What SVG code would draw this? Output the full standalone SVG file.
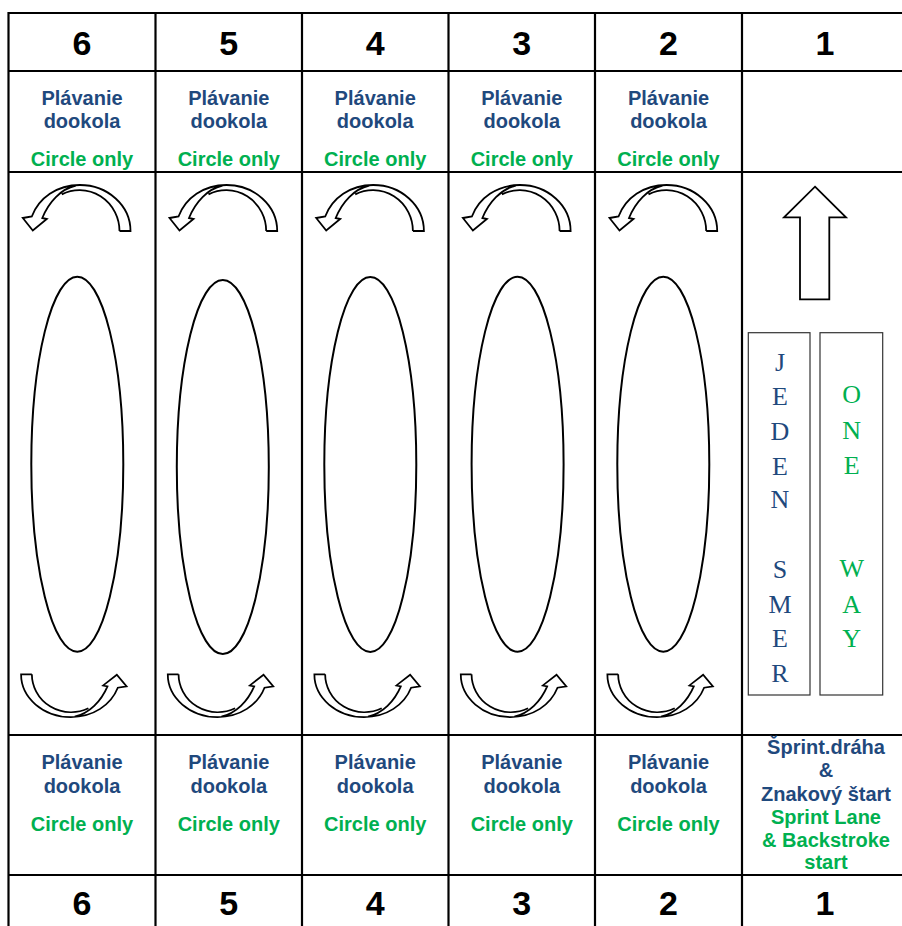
<svg xmlns="http://www.w3.org/2000/svg" xmlns:xlink="http://www.w3.org/1999/xlink" width="902" height="926" viewBox="0 0 902 926">
<style>
.grid{stroke:#000;stroke-width:2.2;fill:none}
.num{font-family:"Liberation Sans",Arial,sans-serif;font-weight:bold;font-size:34px;text-anchor:middle;fill:#000}
.sk{font-family:"Liberation Sans",Arial,sans-serif;font-weight:bold;font-size:20px;text-anchor:middle;fill:#1F497D}
.en{font-family:"Liberation Sans",Arial,sans-serif;font-weight:bold;font-size:20px;text-anchor:middle;fill:#00B050}
.oval{fill:none;stroke:#000;stroke-width:2}
.arw{fill:#fff;stroke:#000;stroke-width:1.8;stroke-linejoin:miter}
.box{fill:#fff;stroke:#333;stroke-width:1.2}
.ltr{font-family:"Liberation Serif","Times New Roman",serif;font-size:26px;text-anchor:middle}
</style>
<defs>
<path id="arc" class="arw" d="M42.7,23 L53.7,23 A50.7,46 0 0 0 3,-23 C-20,-23 -38,-10 -45,8.5 L-54,10 L-44,22.5 L-30,11 L-34.5,10 C-28,-6 -16,-19 -1,-22.5 M-15,-13.6 A40,41 0 0 1 42.7,23"/>
</defs>
<rect width="902" height="926" fill="#fff"/>
<g id="grid">
<line class="grid" x1="8" y1="13" x2="902" y2="13"/>
<line class="grid" x1="8" y1="71" x2="902" y2="71"/>
<line class="grid" x1="8" y1="172" x2="902" y2="172"/>
<line class="grid" x1="8" y1="735" x2="902" y2="735"/>
<line class="grid" x1="8" y1="875" x2="902" y2="875"/>
<line class="grid" x1="8.5" y1="12" x2="8.5" y2="926"/>
<line class="grid" x1="155.5" y1="12" x2="155.5" y2="926"/>
<line class="grid" x1="302" y1="12" x2="302" y2="926"/>
<line class="grid" x1="448.5" y1="12" x2="448.5" y2="926"/>
<line class="grid" x1="595" y1="12" x2="595" y2="926"/>
<line class="grid" x1="742" y1="12" x2="742" y2="926"/>
</g>
<g id="lane6">
<text class="num" x="82" y="55">6</text>
<text class="sk" x="82" y="105">Plávanie</text>
<text class="sk" x="82" y="128">dookola</text>
<text class="en" x="82" y="166">Circle only</text>
<use xlink:href="#arc" href="#arc" transform="translate(76.8,208)"/>
<ellipse class="oval" cx="77.3" cy="464.2" rx="46" ry="187.5"/>
<use xlink:href="#arc" href="#arc" transform="translate(73.7,695.7) rotate(180) scale(0.98,0.93)"/>
<text class="sk" x="82" y="769">Plávanie</text>
<text class="sk" x="82" y="793">dookola</text>
<text class="en" x="82" y="831">Circle only</text>
<text class="num" x="82" y="915">6</text>
</g>
<g id="lane5">
<text class="num" x="228.8" y="55">5</text>
<text class="sk" x="228.8" y="105">Plávanie</text>
<text class="sk" x="228.8" y="128">dookola</text>
<text class="en" x="228.8" y="166">Circle only</text>
<use xlink:href="#arc" href="#arc" transform="translate(223.5,208)"/>
<ellipse class="oval" cx="222.8" cy="467" rx="46" ry="187"/>
<use xlink:href="#arc" href="#arc" transform="translate(220.4,695.7) rotate(180) scale(0.98,0.93)"/>
<text class="sk" x="228.8" y="769">Plávanie</text>
<text class="sk" x="228.8" y="793">dookola</text>
<text class="en" x="228.8" y="831">Circle only</text>
<text class="num" x="228.8" y="915">5</text>
</g>
<g id="lane4">
<text class="num" x="375.2" y="55">4</text>
<text class="sk" x="375.2" y="105">Plávanie</text>
<text class="sk" x="375.2" y="128">dookola</text>
<text class="en" x="375.2" y="166">Circle only</text>
<use xlink:href="#arc" href="#arc" transform="translate(370.2,208)"/>
<ellipse class="oval" cx="370.3" cy="464.5" rx="46" ry="187.5"/>
<use xlink:href="#arc" href="#arc" transform="translate(367,695.7) rotate(180) scale(0.98,0.93)"/>
<text class="sk" x="375.2" y="769">Plávanie</text>
<text class="sk" x="375.2" y="793">dookola</text>
<text class="en" x="375.2" y="831">Circle only</text>
<text class="num" x="375.2" y="915">4</text>
</g>
<g id="lane3">
<text class="num" x="521.8" y="55">3</text>
<text class="sk" x="521.8" y="105">Plávanie</text>
<text class="sk" x="521.8" y="128">dookola</text>
<text class="en" x="521.8" y="166">Circle only</text>
<use xlink:href="#arc" href="#arc" transform="translate(516.9,208)"/>
<ellipse class="oval" cx="517.6" cy="464.2" rx="46" ry="187.5"/>
<use xlink:href="#arc" href="#arc" transform="translate(513.4,695.7) rotate(180) scale(0.98,0.93)"/>
<text class="sk" x="521.8" y="769">Plávanie</text>
<text class="sk" x="521.8" y="793">dookola</text>
<text class="en" x="521.8" y="831">Circle only</text>
<text class="num" x="521.8" y="915">3</text>
</g>
<g id="lane2">
<text class="num" x="668.5" y="55">2</text>
<text class="sk" x="668.5" y="105">Plávanie</text>
<text class="sk" x="668.5" y="128">dookola</text>
<text class="en" x="668.5" y="166">Circle only</text>
<use xlink:href="#arc" href="#arc" transform="translate(663.5,208)"/>
<ellipse class="oval" cx="663.3" cy="464.2" rx="46" ry="187.5"/>
<use xlink:href="#arc" href="#arc" transform="translate(660,695.7) rotate(180) scale(0.98,0.93)"/>
<text class="sk" x="668.5" y="769">Plávanie</text>
<text class="sk" x="668.5" y="793">dookola</text>
<text class="en" x="668.5" y="831">Circle only</text>
<text class="num" x="668.5" y="915">2</text>
</g>
<g id="lane1">
<text class="num" x="825" y="55">1</text>
<path class="arw" stroke-width="2" d="M815,186.7 L846,217.3 L829.3,217.3 L829.3,299.3 L800,299.3 L800,217.3 L784,217.3 Z"/>
<g id="jeden-smer">
<rect class="box" x="748.3" y="332.7" width="61.7" height="362.3"/>
<g class="ltr" fill="#1F497D">
<text x="780" y="370.7">J</text>
<text x="780" y="405">E</text>
<text x="780" y="440">D</text>
<text x="780" y="475">E</text>
<text x="780" y="508.3">N</text>
<text x="780" y="578.3">S</text>
<text x="780" y="613.3">M</text>
<text x="780" y="646.7">E</text>
<text x="780" y="681.7">R</text>
</g>
</g>
<g id="one-way">
<rect class="box" x="820" y="332.7" width="62.7" height="362.3"/>
<g class="ltr" fill="#00B050">
<text x="851.7" y="403.3">O</text>
<text x="851.7" y="439.3">N</text>
<text x="851.7" y="474">E</text>
<text x="851.7" y="576.7">W</text>
<text x="851.7" y="612.7">A</text>
<text x="851.7" y="646.7">Y</text>
</g>
</g>
<text class="sk" x="826" y="754">Šprint.dráha</text>
<text class="sk" x="826" y="777">&amp;</text>
<text class="sk" x="826" y="801">Znakový štart</text>
<text class="en" x="826" y="824">Sprint Lane</text>
<text class="en" x="826" y="847">&amp; Backstroke</text>
<text class="en" x="826" y="869">start</text>
<text class="num" x="825" y="915">1</text>
</g>
<g id="connectors"/>
</svg>
